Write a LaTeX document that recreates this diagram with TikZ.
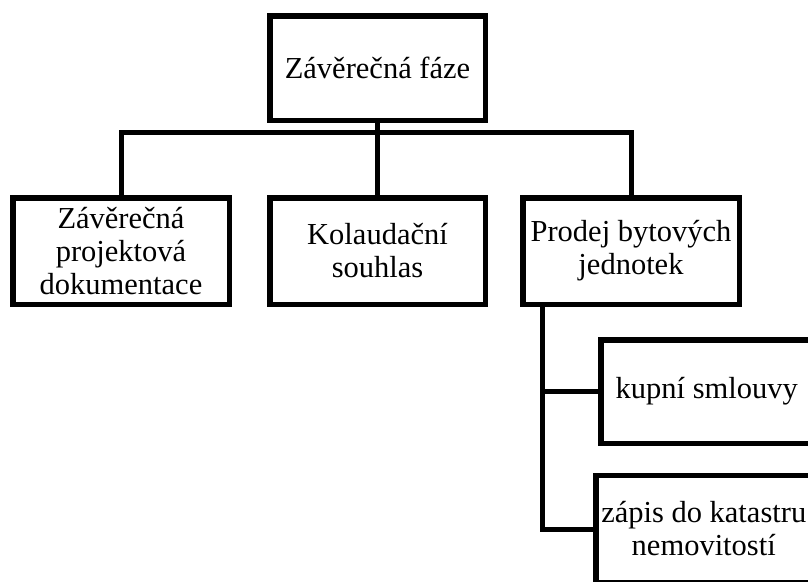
\documentclass[tikz,border=0pt]{standalone}
\usepackage{fontspec}
\setmainfont{Liberation Serif}
\begin{document}
\begin{tikzpicture}[x=1pt,y=-1pt,
  box/.style={draw, line width=5.5pt, rectangle, inner sep=0pt, align=center,
    font=\fontsize{30.5}{33}\selectfont, text=black},
  conn/.style={line width=5pt}]
\useasboundingbox (0,0) rectangle (808,581);
\clip (0,0) rectangle (808,581);
\fill[white] (0,0) rectangle (808,581);
\node[box, minimum width=215.5pt, minimum height=104.5pt] (top) at (377.5,68) {Závěrečná fáze};
\node[box, minimum width=216.5pt, minimum height=106.5pt] (left) at (121,251) {Závěrečná\\projektová\\dokumentace};
\node[box, minimum width=215.5pt, minimum height=106.5pt] (mid) at (377.5,251) {Kolaudační\\souhlas};
\node[box, minimum width=216.5pt, minimum height=106.5pt] (right) at (631,251) {Prodej bytových\\jednotek};
\node[box, minimum width=212pt, minimum height=103.5pt] (kupni) at (706.75,391.5) {kupní smlouvy};
\node[box, minimum width=216pt, minimum height=107pt] (zapis) at (703.75,529) {zápis do katastru\\nemovitostí};
\coordinate (bar) at (0,132.5);
\draw[conn] (top.south) -- (mid.north);
\draw[conn] (left.north) -- (left.north |- bar) -- (right.north |- bar) -- (right.north);
\draw[conn] ([xshift=22pt]right.south west) |- (kupni.west);
\draw[conn] ([xshift=22pt]right.south west) |- (zapis.west);
\end{tikzpicture}
\end{document}
